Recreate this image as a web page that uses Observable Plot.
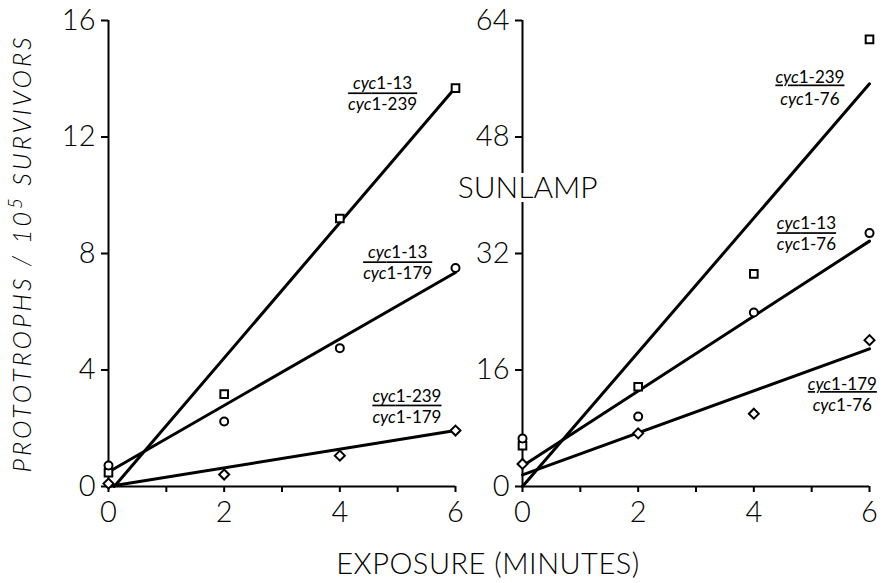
<!DOCTYPE html>
<html><head><meta charset="utf-8">
<script src="https://cdn.jsdelivr.net/npm/d3@7"></script>
<script src="https://cdn.jsdelivr.net/npm/@observablehq/plot@0.6"></script>
<style>
body{margin:0;background:#fff;}
#chart{position:relative;width:885px;height:583px;overflow:hidden;font-family:Lato,"Open Sans",sans-serif;font-weight:300;color:#000;}
#chart svg{position:absolute;left:0;top:0;}
#xtitle{position:absolute;left:288px;width:400px;top:548px;text-align:center;font-size:29px;line-height:29px;white-space:nowrap;letter-spacing:0.5px;}
</style></head><body>
<div id="chart"><div id="xtitle">EXPOSURE (MINUTES)</div></div>
<script>
// exposure times (minutes)
const minutes = [0, 2, 4, 6];
const xTicks = [0, 2, 4, 6];
const xMinorTicks = [1, 3, 5];

// left panel values (prototrophs / 10^5 survivors)
const leftSquares = [0.47, 3.17, 9.2, 13.68];   // cyc1-13 / cyc1-239
const leftCircles = [0.72, 2.23, 4.75, 7.5];    // cyc1-13 / cyc1-179
const leftDiamonds = [0.1, 0.41, 1.06, 1.92];   // cyc1-239 / cyc1-179
const leftYTicks = [0, 4, 8, 12, 16];
// fitted lines: [minute, value] endpoints
const leftSquareFit = [[0.1, 0], [6, 13.7]];
const leftCircleFit = [[0, 0.5], [6, 7.35]];
const leftDiamondFit = [[0, 0], [6, 1.92]];
const leftNumerators = ["cyc1-13", "cyc1-13", "cyc1-239"];
const leftDenominators = ["cyc1-239", "cyc1-179", "cyc1-179"];
const leftLabelX = [4.74, 5.0, 5.16];
const leftLabelY = [13.5, 7.7, 2.78];

// right panel values (sunlamp)
const rightSquares = [5.6, 13.7, 29.2, 61.4];   // cyc1-239 / cyc1-76
const rightCircles = [6.6, 9.6, 23.9, 34.8];    // cyc1-13 / cyc1-76
const rightDiamonds = [3.1, 7.3, 10.0, 20.1];   // cyc1-179 / cyc1-76
const rightYTicks = [0, 16, 32, 48, 64];
const rightSquareFit = [[0, 0], [6, 55.3]];
const rightCircleFit = [[0, 2.8], [6, 33.7]];
const rightDiamondFit = [[0, 1.6], [6, 18.9]];
const rightNumerators = ["cyc1-239", "cyc1-13", "cyc1-179"];
const rightDenominators = ["cyc1-76", "cyc1-76", "cyc1-76"];
const rightLabelX = [4.97, 4.91, 5.53];
const rightLabelY = [54.8, 34.8, 12.7];

const yTitle = "PROTOTROPHS / 10⁵ SURVIVORS";
const panelTitle = "SUNLAMP";
const panelTitleX = [0.09];
const panelTitleY = [40.9];

const pts = vals => minutes.map((m, i) => ({x: m, y: vals[i]}));
const fit = seg => seg.map(([x, y]) => ({x, y}));
const labelRows = (nums, dens, xs, ys) => nums.map((n, i) => ({num: n, den: dens[i], x: xs[i], y: ys[i]}));

function panel({marginLeft, marginRight, yDomain, yTicks, squares, circles, diamonds, sqFit, ciFit, diFit, labels, extra = []}) {
  return Plot.plot({
    width: 885, height: 583, marginTop: 20, marginBottom: 97, marginLeft, marginRight,
    style: {background: "transparent", overflow: "visible", fontFamily: "Lato, 'Open Sans', sans-serif", fontWeight: 300, color: "#000"},
    x: {domain: [0, 6]},
    y: {domain: yDomain},
    marks: [
      Plot.ruleX([0], {y1: yDomain[0], y2: yDomain[1], strokeWidth: 2}),
      Plot.ruleY([0], {x1: 0, x2: 6, strokeWidth: 2}),
      Plot.axisY({ticks: yTicks, tickSize: 7, tickPadding: 6, fontSize: 29, strokeWidth: 2, label: null}),
      Plot.axisX({ticks: [...xTicks, ...xMinorTicks], tickSize: 6, tickPadding: 9, fontSize: 29, strokeWidth: 2,
                  tickFormat: d => xTicks.includes(d) ? String(d) : "", label: null}),
      Plot.line(fit(sqFit), {x: "x", y: "y", strokeWidth: 3}),
      Plot.line(fit(ciFit), {x: "x", y: "y", strokeWidth: 3}),
      Plot.line(fit(diFit), {x: "x", y: "y", strokeWidth: 3}),
      Plot.dot(pts(squares), {x: "x", y: "y", symbol: "square", r: 4.3, stroke: "black", strokeWidth: 2, fill: "white"}),
      Plot.dot(pts(circles), {x: "x", y: "y", symbol: "circle", r: 4, stroke: "black", strokeWidth: 2, fill: "white"}),
      Plot.dot(pts(diamonds), {x: "x", y: "y", symbol: "diamond2", r: 4.5, stroke: "black", strokeWidth: 2, fill: "white"}),
      Plot.text(labels, {x: "x", y: "y", text: "num", lineAnchor: "bottom", dy: -4, fontSize: 17, fontWeight: 400, fill: "black"}),
      Plot.text(labels, {x: "x", y: "y", text: "den", lineAnchor: "top", dy: 5, fontSize: 17, fontWeight: 400, fill: "black"}),
      ...extra
    ]
  });
}

const left = panel({
  marginLeft: 108, marginRight: 885 - 455, yDomain: [0, 16], yTicks: leftYTicks,
  squares: leftSquares, circles: leftCircles, diamonds: leftDiamonds,
  sqFit: leftSquareFit, ciFit: leftCircleFit, diFit: leftDiamondFit,
  labels: labelRows(leftNumerators, leftDenominators, leftLabelX, leftLabelY),
  extra: [Plot.text([yTitle], {frameAnchor: "left", textAnchor: "middle", dx: -86, rotate: -90, fontSize: 25, fontStyle: "italic", fill: "black"})]
});
const right = panel({
  marginLeft: 522, marginRight: 16, yDomain: [0, 64], yTicks: rightYTicks,
  squares: rightSquares, circles: rightCircles, diamonds: rightDiamonds,
  sqFit: rightSquareFit, ciFit: rightCircleFit, diFit: rightDiamondFit,
  labels: labelRows(rightNumerators, rightDenominators, rightLabelX, rightLabelY),
  extra: [Plot.text([panelTitle], {x: panelTitleX, y: panelTitleY, fontSize: 30, fill: "black", stroke: "white", strokeWidth: 8})]
});

const chart = document.getElementById("chart");
chart.appendChild(left);
chart.appendChild(right);

const NS = "http://www.w3.org/2000/svg";
function polish(svg) {
  const cycTexts = [...svg.querySelectorAll("text")].filter(t => t.textContent.startsWith("cyc"));
  const n = cycTexts.length / 2;
  const lens = cycTexts.map(t => t.textContent.length);
  cycTexts.forEach(t => {
    const s = t.textContent;
    t.textContent = "";
    const a = document.createElementNS(NS, "tspan");
    a.setAttribute("font-style", "italic");
    a.textContent = "cyc";
    const b = document.createElementNS(NS, "tspan");
    b.textContent = s.slice(3);
    t.appendChild(a); t.appendChild(b);
  });
  for (let i = 0; i < n; i++) {
    const num = cycTexts[i], den = cycTexts[i + n];
    if (lens[i] > lens[i + n]) num.style.textDecoration = "underline";
    else den.style.textDecoration = "overline";
  }
  svg.querySelectorAll("text").forEach(t => {
    const s = t.textContent;
    if (s.includes("⁵")) {
      const [pre, post] = s.split("⁵");
      t.textContent = "";
      t.style.letterSpacing = "3px";
      const a = document.createElementNS(NS, "tspan"); a.textContent = pre;
      const b = document.createElementNS(NS, "tspan"); b.textContent = "5"; b.setAttribute("dy", "-0.45em"); b.setAttribute("font-size", "0.75em");
      const c = document.createElementNS(NS, "tspan"); c.textContent = post; c.setAttribute("dy", "0.34em");
      t.appendChild(a); t.appendChild(b); t.appendChild(c);
    }
  });
}
polish(left);
polish(right);
</script>
</body></html>
